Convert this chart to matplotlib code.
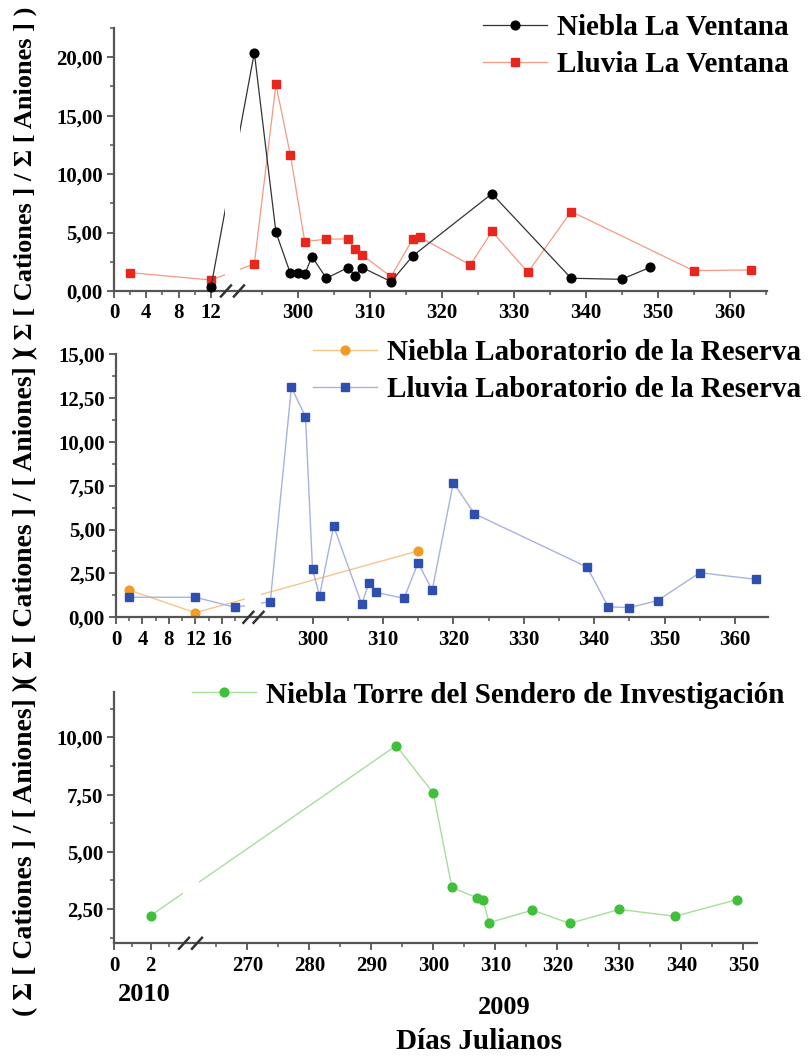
import numpy as np
import matplotlib
matplotlib.use('Agg')
import matplotlib.pyplot as plt
from matplotlib.patches import Rectangle
from matplotlib.ticker import FuncFormatter

plt.rcParams['font.family'] = ['Liberation Serif', 'DejaVu Serif']
plt.rcParams['font.weight'] = 'bold'

# ---- data (Julian days, ratio sum cations / sum anions) ----
vent_niebla_x = [12, 294, 297, 299, 300, 301, 302, 304, 307, 308, 309, 313, 316, 327, 338, 345, 349]
vent_niebla_y = [0.32, 20.4, 5.03, 1.52, 1.55, 1.43, 2.94, 1.09, 2.0, 1.32, 2.0, 0.8, 3.0, 8.32, 1.09, 1.0, 2.03]
vent_lluvia_x = [2, 12, 294, 297, 299, 301, 304, 307, 308, 309, 313, 316, 317, 324, 327, 332, 338, 355, 363]
vent_lluvia_y = [1.57, 0.94, 2.32, 17.67, 11.66, 4.23, 4.43, 4.46, 3.57, 3.06, 1.23, 4.46, 4.6, 2.23, 5.09, 1.6, 6.8, 1.74, 1.8]

lab_niebla_x = [2, 12, 315]
lab_niebla_y = [1.55, 0.26, 3.78]
lab_lluvia_x = [2, 12, 18, 294, 297, 299, 300, 301, 303, 307, 308, 309, 313, 315, 317, 320, 323, 339, 342, 345, 349, 355, 363]
lab_lluvia_y = [1.14, 1.14, 0.57, 0.89, 13.1, 11.43, 2.75, 1.23, 5.2, 0.74, 1.97, 1.42, 1.08, 3.11, 1.54, 7.67, 5.9,
                2.86, 0.6, 0.55, 0.95, 2.54, 2.16]

torre_x = [2, 294, 300, 303, 307, 308, 309, 316, 322, 330, 339, 349]
torre_y = [2.21, 9.64, 7.57, 3.44, 2.99, 2.89, 1.90, 2.45, 1.87, 2.48, 2.18, 2.91]

lbl_vent = ['Niebla La Ventana', 'Lluvia La Ventana']
lbl_lab = ['Niebla Laboratorio de la Reserva', 'Lluvia Laboratorio de la Reserva']
lbl_torre = ['Niebla Torre del Sendero de Investigación']

SPINE = '#555555'


def broken_scale(kx, kf):
    kx = np.asarray(kx, float)
    kf = np.asarray(kf, float)
    return (lambda v: np.interp(v, kx, kf), lambda v: np.interp(v, kf, kx))


def style(ax, knots_x, knots_f, gap, slashes, xmaj, xmin, ymaj, ymin, ylim):
    ax.set_xscale('function', functions=broken_scale(knots_x, knots_f))
    ax.set_xlim(knots_x[0], knots_x[-1])
    ax.set_ylim(*ylim)
    for s in ['top', 'right']:
        ax.spines[s].set_visible(False)
    for s in ['left', 'bottom']:
        ax.spines[s].set_color(SPINE)
        ax.spines[s].set_linewidth(1.6)
    ax.set_xticks(xmaj)
    ax.set_xticks(xmin, minor=True)
    ax.set_yticks(ymaj)
    ax.set_yticks(ymin, minor=True)
    ax.xaxis.set_major_formatter(FuncFormatter(lambda v, p: '%d' % round(v)))
    ax.yaxis.set_major_formatter(FuncFormatter(lambda v, p: ('%.2f' % v).replace('.', ',')))
    ax.tick_params(which='major', length=5, width=1.3, color=SPINE, labelsize=15, pad=3)
    ax.tick_params(which='minor', length=3, width=1.1, color=SPINE)
    ax.tick_params(axis='x', pad=4)
    ax.set_facecolor('none')
    # white gap over the axis break
    ax.add_patch(Rectangle((gap[0], 0.012), gap[1] - gap[0], 1.0, transform=ax.transAxes,
                           facecolor='white', edgecolor='none', zorder=5))
    h = 5.5 / (ax.get_position().height * 1057)
    w = 5.0 / (ax.get_position().width * 810)
    for cx in slashes:
        ax.plot([cx - w, cx + w], [-h, h], transform=ax.transAxes, color='#333333',
                lw=1.8, clip_on=False, zorder=6)


def add_legend(handles, labels, anchor):
    fig.legend(handles, labels, loc='upper left', bbox_to_anchor=anchor,
               frameon=False, fontsize=21, handlelength=2.2, handletextpad=0.35,
               labelspacing=0.335, borderpad=0, borderaxespad=0, numpoints=1)


fig = plt.figure(figsize=(8.1, 10.57), dpi=100)

# ---- top panel ----
ax1 = fig.add_axes([0.1407, 0.7247, 0.8062, 0.2488])
l1, = ax1.plot(vent_niebla_x, vent_niebla_y, color='#333333', lw=0.9, marker='o', ms=6.3,
               mfc='black', mec='black', clip_on=False, zorder=3)
l2, = ax1.plot(vent_lluvia_x, vent_lluvia_y, color='#f39a85', lw=0.9, marker='s', ms=5.8,
               mfc='#e8261c', mec='#e8261c', clip_on=False, zorder=2)
style(ax1, [0, 13.74, 292.7, 365.2], [0, 0.170, 0.2006, 1], (0.170, 0.193), (0.1715, 0.1914),
      [0, 4, 8, 12, 300, 310, 320, 330, 340, 350, 360],
      [2, 6, 10, 295, 305, 315, 325, 335, 345, 355, 365],
      [0, 5, 10, 15, 20], [2.5, 7.5, 12.5, 17.5, 22.5], (0, 22.5))
add_legend([l1, l2], lbl_vent, (0.596, 0.9863))

# ---- middle panel ----
ax2 = fig.add_axes([0.1432, 0.416, 0.805, 0.2491])
l3, = ax2.plot(lab_niebla_x, lab_niebla_y, color='#f7c58a', lw=1.0, marker='o', ms=6.3,
               mfc='#f59a22', mec='#f59a22', clip_on=False, zorder=2)
l4, = ax2.plot(lab_lluvia_x, lab_lluvia_y, color='#a9b1df', lw=1.0, marker='s', ms=5.8,
               mfc='#2f4fae', mec='#2f4fae', clip_on=False, zorder=3)
style(ax2, [0, 19.2, 293.25, 364.7], [0, 0.1948, 0.2285, 1], (0.198, 0.2224), (0.203, 0.2186),
      [0, 4, 8, 12, 16, 300, 310, 320, 330, 340, 350, 360],
      [2, 6, 10, 14, 18, 295, 305, 315, 325, 335, 345, 355],
      [0, 2.5, 5, 7.5, 10, 12.5, 15], [1.25, 3.75, 6.25, 8.75, 11.25, 13.75], (0, 15))
add_legend([l3, l4], lbl_lab, (0.386, 0.6792))

# ---- bottom panel ----
ax3 = fig.add_axes([0.1411, 0.1076, 0.7938, 0.238])
l5, = ax3.plot(torre_x, torre_y, color='#a8dd9c', lw=1.0, marker='o', ms=6.3,
               mfc='#3fbf3a', mec='#3fbf3a', clip_on=False, zorder=3)
style(ax3, [0, 3.61, 262.85, 352.26], [0, 0.1022, 0.138, 1], (0.1068, 0.1317), (0.1084, 0.1286),
      [0, 2, 270, 280, 290, 300, 310, 320, 330, 340, 350],
      [1, 3, 265, 275, 285, 295, 305, 315, 325, 335, 345],
      [2.5, 5, 7.5, 10], [1.25, 3.75, 6.25, 8.75, 11.25], (1, 12))
add_legend([l5], lbl_torre, (0.237, 0.3552))

# ---- axis titles ----
fig.text(0.031, 0.8287, '( Σ [ Cationes ] / Σ [ Aniones ] )', rotation=90, ha='center', va='center', fontsize=19)
fig.text(0.031, 0.5109, '( Σ [ Cationes ] / [ Aniones] )', rotation=90, ha='center', va='center', fontsize=20)
fig.text(0.031, 0.1968, '( Σ [ Cationes ] / [ Aniones] )', rotation=90, ha='center', va='center', fontsize=20)
fig.text(0.1778, 0.0587, '2010', ha='center', va='center', fontsize=19)
fig.text(0.6222, 0.0464, '2009', ha='center', va='center', fontsize=19)
fig.text(0.5914, 0.0142, 'Días Julianos', ha='center', va='center', fontsize=21)

fig.savefig('out.png', dpi=100)
